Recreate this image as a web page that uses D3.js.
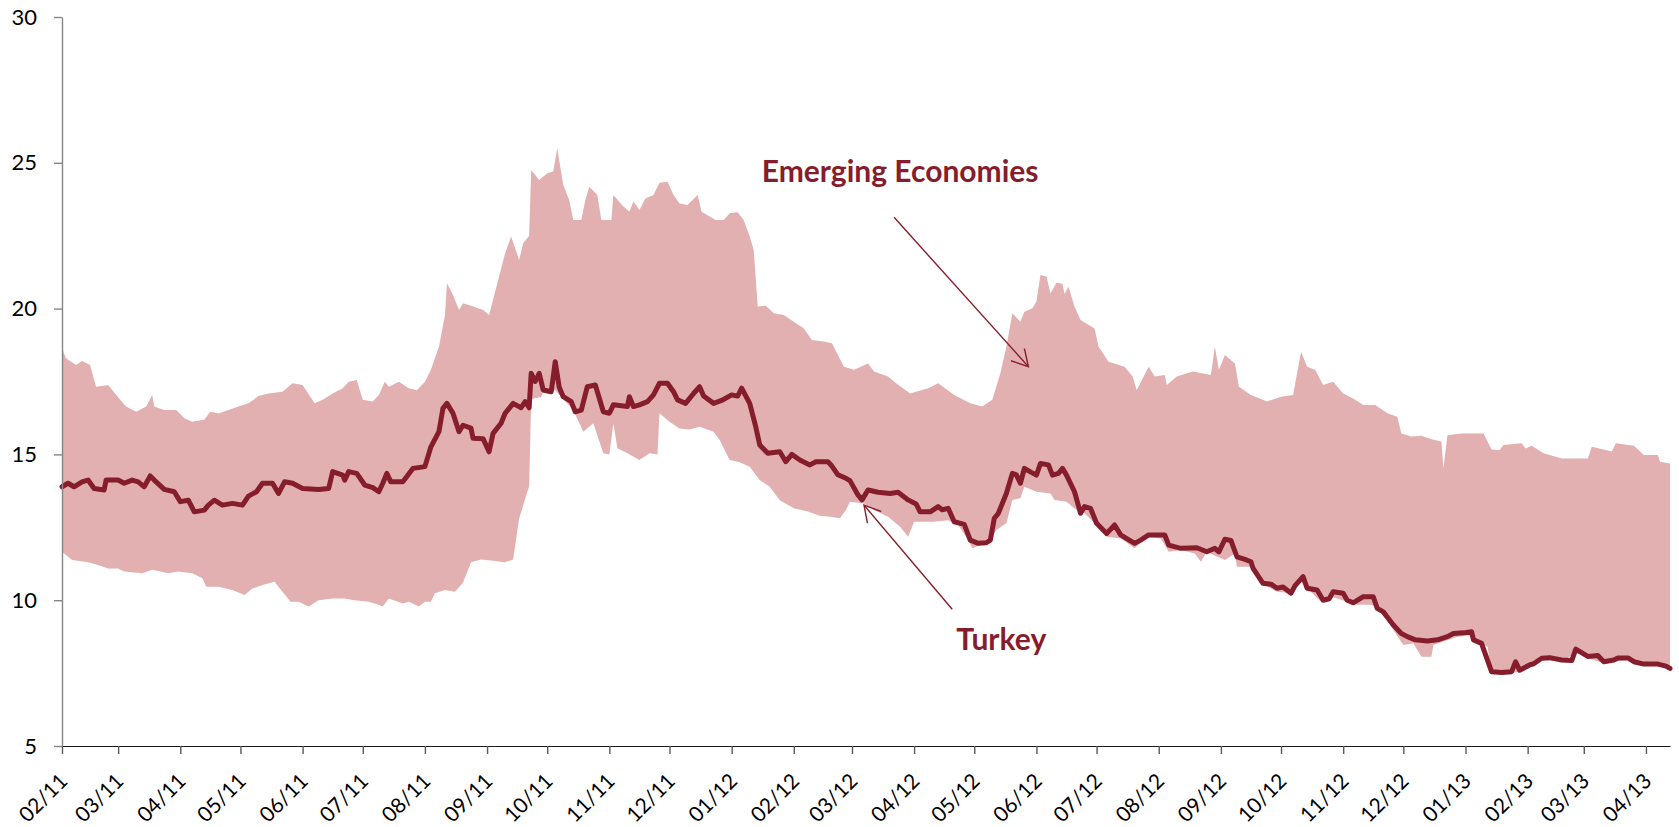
<!DOCTYPE html>
<html>
<head>
<meta charset="utf-8">
<script src="https://cdn.jsdelivr.net/npm/d3@7"></script>
<style>
  html, body { margin: 0; padding: 0; background: #fff; }
  svg { display: block; font-family: Lato, "Open Sans", sans-serif; }
</style>
</head>
<body>
<svg id="chart" width="1679" height="827"></svg>
<script>
// Turkey vs emerging-economy range (min/max band), Feb 2011 - Apr 2013

const yTicks = [5, 10, 15, 20, 25, 30];

const monthTicks = ["2011-02-01","2011-03-01","2011-04-01","2011-05-01","2011-06-01","2011-07-01",
  "2011-08-01","2011-09-01","2011-10-01","2011-11-01","2011-12-01","2012-01-01","2012-02-01",
  "2012-03-01","2012-04-01","2012-05-01","2012-06-01","2012-07-01","2012-08-01","2012-09-01",
  "2012-10-01","2012-11-01","2012-12-01","2013-01-01","2013-02-01","2013-03-01","2013-04-01"];

// upper edge of the emerging economies band
const emHigh = [["2011-02-01",18.64],["2011-02-03",18.3],["2011-02-08",18.07],["2011-02-11",18.2],["2011-02-15",18.07],["2011-02-18",17.32],["2011-02-24",17.38],["2011-03-02",16.87],["2011-03-05",16.64],["2011-03-10",16.46],["2011-03-15",16.64],["2011-03-18",17.04],["2011-03-19",16.64],["2011-03-24",16.52],["2011-03-30",16.52],["2011-04-03",16.24],["2011-04-07",16.12],["2011-04-13",16.2],["2011-04-16",16.46],["2011-04-20",16.4],["2011-04-25",16.52],["2011-04-30",16.64],["2011-05-05",16.75],["2011-05-10",17.0],["2011-05-15",17.09],["2011-05-22",17.15],["2011-05-27",17.44],["2011-06-01",17.38],["2011-06-07",16.75],["2011-06-11",16.87],["2011-06-16",17.09],["2011-06-21",17.27],["2011-06-24",17.49],["2011-06-28",17.55],["2011-07-01",16.87],["2011-07-06",16.81],["2011-07-09",17.04],["2011-07-12",17.49],["2011-07-14",17.32],["2011-07-19",17.49],["2011-07-24",17.27],["2011-07-28",17.2],["2011-08-01",17.49],["2011-08-04",17.9],["2011-08-08",18.69],["2011-08-11",19.78],["2011-08-12",20.87],["2011-08-15",20.47],["2011-08-18",19.95],["2011-08-20",20.18],["2011-08-24",20.1],["2011-08-30",19.95],["2011-09-02",19.78],["2011-09-04",20.3],["2011-09-07",21.1],["2011-09-10",21.9],["2011-09-13",22.47],["2011-09-17",21.67],["2011-09-19",22.24],["2011-09-22",22.5],["2011-09-23",24.75],["2011-09-27",24.41],["2011-10-01",24.64],["2011-10-04",24.7],["2011-10-06",25.5],["2011-10-09",24.24],["2011-10-12",23.72],["2011-10-14",23.04],["2011-10-18",23.04],["2011-10-20",23.72],["2011-10-22",24.18],["2011-10-26",23.9],["2011-10-28",23.04],["2011-11-02",23.04],["2011-11-03",23.9],["2011-11-08",23.5],["2011-11-11",23.33],["2011-11-13",23.67],["2011-11-16",23.38],["2011-11-19",23.78],["2011-11-23",23.9],["2011-11-26",24.32],["2011-11-30",24.35],["2011-12-03",23.9],["2011-12-06",23.6],["2011-12-10",23.55],["2011-12-15",23.9],["2011-12-17",23.32],["2011-12-24",23.04],["2011-12-28",23.04],["2011-12-31",23.27],["2012-01-04",23.3],["2012-01-07",23.04],["2012-01-10",22.47],["2012-01-12",22.01],["2012-01-14",20.07],["2012-01-18",20.1],["2012-01-22",19.84],["2012-01-27",19.78],["2012-02-01",19.55],["2012-02-06",19.32],["2012-02-10",18.92],["2012-02-16",18.87],["2012-02-20",18.81],["2012-02-26",18.01],["2012-03-02",17.9],["2012-03-09",18.12],["2012-03-12",17.84],["2012-03-19",17.67],["2012-03-23",17.44],["2012-03-30",17.09],["2012-04-08",17.27],["2012-04-13",17.44],["2012-04-21",17.04],["2012-04-29",16.75],["2012-05-05",16.64],["2012-05-10",16.87],["2012-05-14",17.78],["2012-05-17",18.69],["2012-05-20",19.84],["2012-05-24",19.55],["2012-05-26",19.89],["2012-05-30",20.01],["2012-06-01",20.24],["2012-06-03",21.15],["2012-06-06",21.1],["2012-06-08",20.52],["2012-06-11",20.89],["2012-06-14",20.85],["2012-06-15",20.5],["2012-06-17",20.75],["2012-06-20",20.07],["2012-06-23",19.61],["2012-06-30",19.32],["2012-07-02",18.69],["2012-07-07",18.18],["2012-07-15",18.01],["2012-07-19",17.67],["2012-07-21",17.2],["2012-07-27",18.01],["2012-07-30",17.67],["2012-08-04",17.72],["2012-08-05",17.38],["2012-08-10",17.67],["2012-08-18",17.84],["2012-08-27",17.72],["2012-08-29",18.69],["2012-08-31",17.9],["2012-09-03",18.41],["2012-09-08",18.12],["2012-09-10",17.32],["2012-09-16",17.04],["2012-09-24",16.81],["2012-10-01",16.98],["2012-10-07",17.04],["2012-10-11",18.52],["2012-10-14",18.01],["2012-10-18",17.9],["2012-10-22",17.38],["2012-10-27",17.49],["2012-11-01",17.09],["2012-11-06",16.92],["2012-11-11",16.69],["2012-11-17",16.69],["2012-11-23",16.41],["2012-11-28",16.29],["2012-11-30",15.72],["2012-12-05",15.61],["2012-12-10",15.64],["2012-12-15",15.52],["2012-12-20",15.44],["2012-12-21",14.52],["2012-12-23",15.66],["2012-12-30",15.72],["2013-01-10",15.72],["2013-01-14",15.17],["2013-01-18",15.15],["2013-01-20",15.32],["2013-01-29",15.38],["2013-01-31",15.2],["2013-02-03",15.3],["2013-02-09",15.04],["2013-02-18",14.86],["2013-03-03",14.86],["2013-03-05",15.26],["2013-03-15",15.1],["2013-03-17",15.38],["2013-03-26",15.3],["2013-03-31",14.98],["2013-04-07",14.98],["2013-04-08",14.75],["2013-04-13",14.69]];

// lower edge of the band
const emLow = [["2011-02-01",11.66],["2011-02-06",11.38],["2011-02-14",11.3],["2011-02-19",11.21],["2011-02-24",11.09],["2011-03-01",11.09],["2011-03-04",10.98],["2011-03-13",10.92],["2011-03-18",11.04],["2011-03-26",10.92],["2011-03-31",10.98],["2011-04-07",10.92],["2011-04-12",10.75],["2011-04-14",10.46],["2011-04-20",10.46],["2011-04-27",10.35],["2011-05-03",10.18],["2011-05-07",10.4],["2011-05-12",10.52],["2011-05-18",10.63],["2011-05-22",10.29],["2011-05-26",9.95],["2011-05-30",9.95],["2011-06-04",9.78],["2011-06-09",10.0],["2011-06-16",10.06],["2011-06-22",10.06],["2011-06-27",10.0],["2011-07-04",9.95],["2011-07-09",9.84],["2011-07-11",9.78],["2011-07-14",10.06],["2011-07-21",9.89],["2011-07-24",9.95],["2011-07-29",9.78],["2011-08-01",9.95],["2011-08-04",9.95],["2011-08-06",10.24],["2011-08-11",10.35],["2011-08-16",10.29],["2011-08-20",10.6],["2011-08-24",11.3],["2011-08-29",11.4],["2011-09-04",11.35],["2011-09-10",11.3],["2011-09-14",11.4],["2011-09-17",12.8],["2011-09-21",13.7],["2011-09-22",13.9],["2011-09-23",16.9],["2011-09-28",16.97],["2011-09-29",17.15],["2011-10-05",17.2],["2011-10-08",16.97],["2011-10-14",16.52],["2011-10-19",15.78],["2011-10-24",16.07],["2011-10-29",15.04],["2011-11-01",15.0],["2011-11-03",16.07],["2011-11-05",15.21],["2011-11-10",15.04],["2011-11-16",14.81],["2011-11-21",15.04],["2011-11-25",15.0],["2011-11-26",16.41],["2011-12-01",16.12],["2011-12-06",15.89],["2011-12-11",15.85],["2011-12-16",15.95],["2011-12-23",15.78],["2011-12-26",15.49],["2011-12-31",14.81],["2012-01-05",14.73],["2012-01-10",14.58],["2012-01-15",14.12],["2012-01-20",13.89],["2012-01-25",13.43],["2012-02-01",13.15],["2012-02-08",13.04],["2012-02-14",12.9],["2012-02-19",12.86],["2012-02-24",12.81],["2012-02-27",13.09],["2012-02-29",13.38],["2012-03-07",13.32],["2012-03-12",13.09],["2012-03-19",12.86],["2012-03-25",12.52],["2012-03-29",12.18],["2012-04-01",12.69],["2012-04-11",12.69],["2012-04-18",12.74],["2012-04-23",12.58],["2012-04-28",12.06],["2012-04-30",11.78],["2012-05-04",11.89],["2012-05-09",12.06],["2012-05-12",12.41],["2012-05-17",12.64],["2012-05-20",13.44],["2012-05-24",13.5],["2012-05-26",13.89],["2012-06-01",13.72],["2012-06-08",13.66],["2012-06-10",13.44],["2012-06-16",13.38],["2012-06-21",13.09],["2012-06-25",12.98],["2012-06-30",12.64],["2012-07-06",12.18],["2012-07-13",12.12],["2012-07-20",11.78],["2012-07-26",12.18],["2012-08-02",12.12],["2012-08-06",11.66],["2012-08-12",11.72],["2012-08-19",11.6],["2012-08-22",11.32],["2012-08-25",11.65],["2012-09-03",11.38],["2012-09-08",11.6],["2012-09-09",11.15],["2012-09-16",11.15],["2012-09-21",10.58],["2012-09-29",10.29],["2012-10-06",10.24],["2012-10-11",10.64],["2012-10-14",10.41],["2012-10-21",9.95],["2012-10-27",10.1],["2012-11-03",9.95],["2012-11-08",9.84],["2012-11-15",9.84],["2012-11-20",9.66],["2012-11-26",8.98],["2012-12-01",8.46],["2012-12-06",8.52],["2012-12-10",8.06],["2012-12-15",8.06],["2012-12-16",8.46],["2012-12-21",8.58],["2012-12-28",8.75],["2013-01-04",8.8],["2013-01-07",8.52],["2013-01-12",8.4],["2013-01-14",7.49],["2013-01-19",7.48],["2013-01-24",7.5],["2013-01-28",7.55],["2013-02-02",7.74],["2013-02-08",7.95],["2013-02-18",7.9],["2013-02-25",8.2],["2013-03-03",8.02],["2013-03-11",7.84],["2013-03-23",7.97],["2013-03-31",7.76],["2013-04-07",7.76],["2013-04-13",7.62]];

const turkey = [["2011-02-01",13.89],["2011-02-04",14.01],["2011-02-07",13.89],["2011-02-11",14.06],["2011-02-14",14.12],["2011-02-17",13.83],["2011-02-22",13.78],["2011-02-23",14.12],["2011-03-01",14.12],["2011-03-04",14.01],["2011-03-08",14.12],["2011-03-11",14.06],["2011-03-14",13.89],["2011-03-17",14.26],["2011-03-19",14.12],["2011-03-24",13.8],["2011-03-29",13.72],["2011-04-01",13.38],["2011-04-05",13.43],["2011-04-08",13.03],["2011-04-13",13.09],["2011-04-15",13.26],["2011-04-18",13.43],["2011-04-22",13.26],["2011-04-27",13.32],["2011-05-02",13.26],["2011-05-05",13.57],["2011-05-09",13.72],["2011-05-12",14.01],["2011-05-17",14.01],["2011-05-20",13.66],["2011-05-23",14.06],["2011-05-27",14.01],["2011-06-01",13.83],["2011-06-09",13.8],["2011-06-14",13.83],["2011-06-16",14.41],["2011-06-21",14.29],["2011-06-22",14.12],["2011-06-24",14.41],["2011-06-28",14.35],["2011-07-02",13.95],["2011-07-06",13.86],["2011-07-09",13.72],["2011-07-11",14.01],["2011-07-13",14.35],["2011-07-15",14.06],["2011-07-21",14.06],["2011-07-26",14.52],["2011-08-01",14.58],["2011-08-04",15.26],["2011-08-08",15.78],["2011-08-10",16.58],["2011-08-12",16.75],["2011-08-15",16.41],["2011-08-18",15.78],["2011-08-20",16.0],["2011-08-24",15.9],["2011-08-25",15.55],["2011-08-30",15.54],["2011-09-02",15.09],["2011-09-04",15.72],["2011-09-08",16.07],["2011-09-10",16.41],["2011-09-14",16.75],["2011-09-18",16.6],["2011-09-20",16.81],["2011-09-22",16.6],["2011-09-23",17.78],["2011-09-25",17.5],["2011-09-27",17.78],["2011-09-29",17.21],["2011-10-03",17.15],["2011-10-05",18.18],["2011-10-07",17.3],["2011-10-09",16.98],["2011-10-13",16.81],["2011-10-15",16.46],["2011-10-18",16.52],["2011-10-21",17.32],["2011-10-25",17.38],["2011-10-29",16.46],["2011-11-01",16.41],["2011-11-03",16.7],["2011-11-10",16.64],["2011-11-11",16.98],["2011-11-13",16.64],["2011-11-16",16.7],["2011-11-20",16.81],["2011-11-23",17.04],["2011-11-26",17.44],["2011-11-30",17.44],["2011-12-03",17.15],["2011-12-05",16.87],["2011-12-09",16.75],["2011-12-13",17.09],["2011-12-16",17.32],["2011-12-18",17.0],["2011-12-23",16.75],["2011-12-27",16.85],["2012-01-01",17.04],["2012-01-04",17.0],["2012-01-06",17.27],["2012-01-10",16.75],["2012-01-13",15.95],["2012-01-15",15.32],["2012-01-19",15.04],["2012-01-25",15.09],["2012-01-28",14.75],["2012-01-31",15.0],["2012-02-04",14.81],["2012-02-09",14.64],["2012-02-12",14.75],["2012-02-18",14.75],["2012-02-20",14.6],["2012-02-23",14.3],["2012-02-27",14.18],["2012-02-29",14.1],["2012-03-04",13.61],["2012-03-06",13.44],["2012-03-09",13.78],["2012-03-14",13.7],["2012-03-20",13.66],["2012-03-24",13.7],["2012-03-29",13.44],["2012-04-02",13.3],["2012-04-04",13.03],["2012-04-09",13.03],["2012-04-13",13.21],["2012-04-15",13.1],["2012-04-18",13.15],["2012-04-21",12.69],["2012-04-26",12.6],["2012-04-29",12.06],["2012-05-03",11.95],["2012-05-07",11.97],["2012-05-09",12.06],["2012-05-11",12.81],["2012-05-13",12.98],["2012-05-17",13.66],["2012-05-20",14.35],["2012-05-22",14.3],["2012-05-24",14.01],["2012-05-26",14.52],["2012-05-29",14.4],["2012-06-01",14.29],["2012-06-03",14.69],["2012-06-07",14.64],["2012-06-09",14.29],["2012-06-12",14.35],["2012-06-14",14.52],["2012-06-16",14.29],["2012-06-20",13.72],["2012-06-23",12.98],["2012-06-25",13.21],["2012-06-28",13.15],["2012-07-01",12.64],["2012-07-06",12.29],["2012-07-10",12.58],["2012-07-13",12.24],["2012-07-20",11.95],["2012-07-23",12.06],["2012-07-27",12.24],["2012-08-04",12.24],["2012-08-06",11.89],["2012-08-12",11.78],["2012-08-20",11.8],["2012-08-25",11.66],["2012-08-29",11.78],["2012-08-31",11.66],["2012-09-03",12.09],["2012-09-06",12.05],["2012-09-09",11.49],["2012-09-13",11.4],["2012-09-16",11.32],["2012-09-17",11.1],["2012-09-22",10.58],["2012-09-26",10.55],["2012-09-29",10.41],["2012-10-02",10.45],["2012-10-06",10.24],["2012-10-08",10.5],["2012-10-12",10.81],["2012-10-14",10.41],["2012-10-19",10.35],["2012-10-22",10.0],["2012-10-25",10.05],["2012-10-27",10.29],["2012-11-01",10.24],["2012-11-03",10.0],["2012-11-06",9.91],["2012-11-11",10.12],["2012-11-16",10.12],["2012-11-18",9.72],["2012-11-21",9.6],["2012-11-26",9.15],["2012-11-30",8.86],["2012-12-03",8.75],["2012-12-07",8.64],["2012-12-13",8.6],["2012-12-18",8.64],["2012-12-23",8.75],["2012-12-26",8.86],["2012-12-31",8.88],["2013-01-04",8.92],["2013-01-05",8.64],["2013-01-09",8.52],["2013-01-14",7.55],["2013-01-19",7.52],["2013-01-24",7.55],["2013-01-26",7.89],["2013-01-28",7.6],["2013-02-02",7.78],["2013-02-04",7.82],["2013-02-08",8.01],["2013-02-12",8.03],["2013-02-18",7.95],["2013-02-23",7.93],["2013-02-25",8.32],["2013-03-03",8.07],["2013-03-08",8.1],["2013-03-11",7.89],["2013-03-16",7.95],["2013-03-18",8.02],["2013-03-23",8.02],["2013-03-26",7.89],["2013-03-31",7.81],["2013-04-07",7.81],["2013-04-11",7.74],["2013-04-13",7.66]];

// labels and arrows, anchored in data space
const labels = [
  {text: "Emerging Economies", date: "2012-01-16", value: 24.35},
  {text: "Turkey", date: "2012-04-22", value: 8.29}
];
const arrows = [
  {from: ["2012-03-22", 23.13], to: ["2012-05-28", 18.01]},
  {from: ["2012-04-20", 9.69], to: ["2012-03-07", 13.26]}
];

const RED = "#861d2d", PINK = "#e2b0b0";
const parse = d3.timeParse("%Y-%m-%d");

const svg = d3.select("#chart");

const x = d3.scaleTime()
  .domain([parse("2011-02-01"), parse("2013-04-13")])
  .range([62, 1670]);
const y = d3.scaleLinear().domain([5, 30]).range([746, 17]);

const line = d3.line()
  .x(d => x(parse(d[0])))
  .y(d => y(d[1]));

// band: upper edge forward, lower edge back
svg.append("path")
  .attr("d", line(emHigh.concat(emLow.slice().reverse())) + "Z")
  .attr("fill", PINK)
  .attr("stroke", "none");

svg.append("path")
  .attr("d", line(turkey))
  .attr("fill", "none")
  .attr("stroke", RED)
  .attr("stroke-width", 5)
  .attr("stroke-linejoin", "round")
  .attr("stroke-linecap", "round");

// axes
const gy = svg.append("g")
  .attr("transform", "translate(62,0)")
  .call(d3.axisLeft(y).tickValues(yTicks).tickSize(8).tickSizeOuter(0).tickPadding(17));
gy.select(".domain").attr("stroke", "#868686").attr("stroke-width", 1.4);
gy.selectAll(".tick line").attr("stroke", "#868686").attr("stroke-width", 1.4);
gy.selectAll("text").attr("font-size", 22).attr("fill", "#000").attr("font-family", "Lato, sans-serif");

const gx = svg.append("g")
  .attr("transform", "translate(0,746)")
  .call(d3.axisBottom(x)
    .tickValues(monthTicks.map(parse))
    .tickSize(8).tickSizeOuter(0)
    .tickFormat(d3.timeFormat("%m/%y")));
gx.select(".domain").attr("stroke", "#1a1a1a").attr("stroke-width", 1.2);
gx.selectAll(".tick line").attr("stroke", "#595959").attr("stroke-width", 1.4);
gx.selectAll("text")
  .attr("font-size", 21).attr("fill", "#000").attr("font-family", "Lato, sans-serif")
  .attr("x", 0).attr("y", 0).attr("dy", "0.36em")
  .attr("text-anchor", "end")
  .attr("transform", "translate(1,31) rotate(-45)");

// annotation arrows (open V heads)
svg.append("defs").append("marker")
  .attr("id", "head")
  .attr("markerUnits", "userSpaceOnUse")
  .attr("markerWidth", 40).attr("markerHeight", 40)
  .attr("refX", 0).attr("refY", 0)
  .attr("viewBox", "-20 -20 40 40")
  .attr("orient", "auto")
  .append("path")
  .attr("d", "M-16,-9L0,0L-16,9")
  .attr("fill", "none")
  .attr("stroke", RED)
  .attr("stroke-width", 1.4);

svg.append("g").selectAll("line").data(arrows).join("line")
  .attr("x1", d => x(parse(d.from[0]))).attr("y1", d => y(d.from[1]))
  .attr("x2", d => x(parse(d.to[0]))).attr("y2", d => y(d.to[1]))
  .attr("stroke", RED)
  .attr("stroke-width", 1.4)
  .attr("marker-end", "url(#head)");

svg.append("g").selectAll("text").data(labels).join("text")
  .attr("x", d => x(parse(d.date)))
  .attr("y", d => y(d.value))
  .attr("fill", RED)
  .attr("font-size", 30)
  .attr("font-weight", 700)
  .text(d => d.text);
</script>
</body>
</html>
